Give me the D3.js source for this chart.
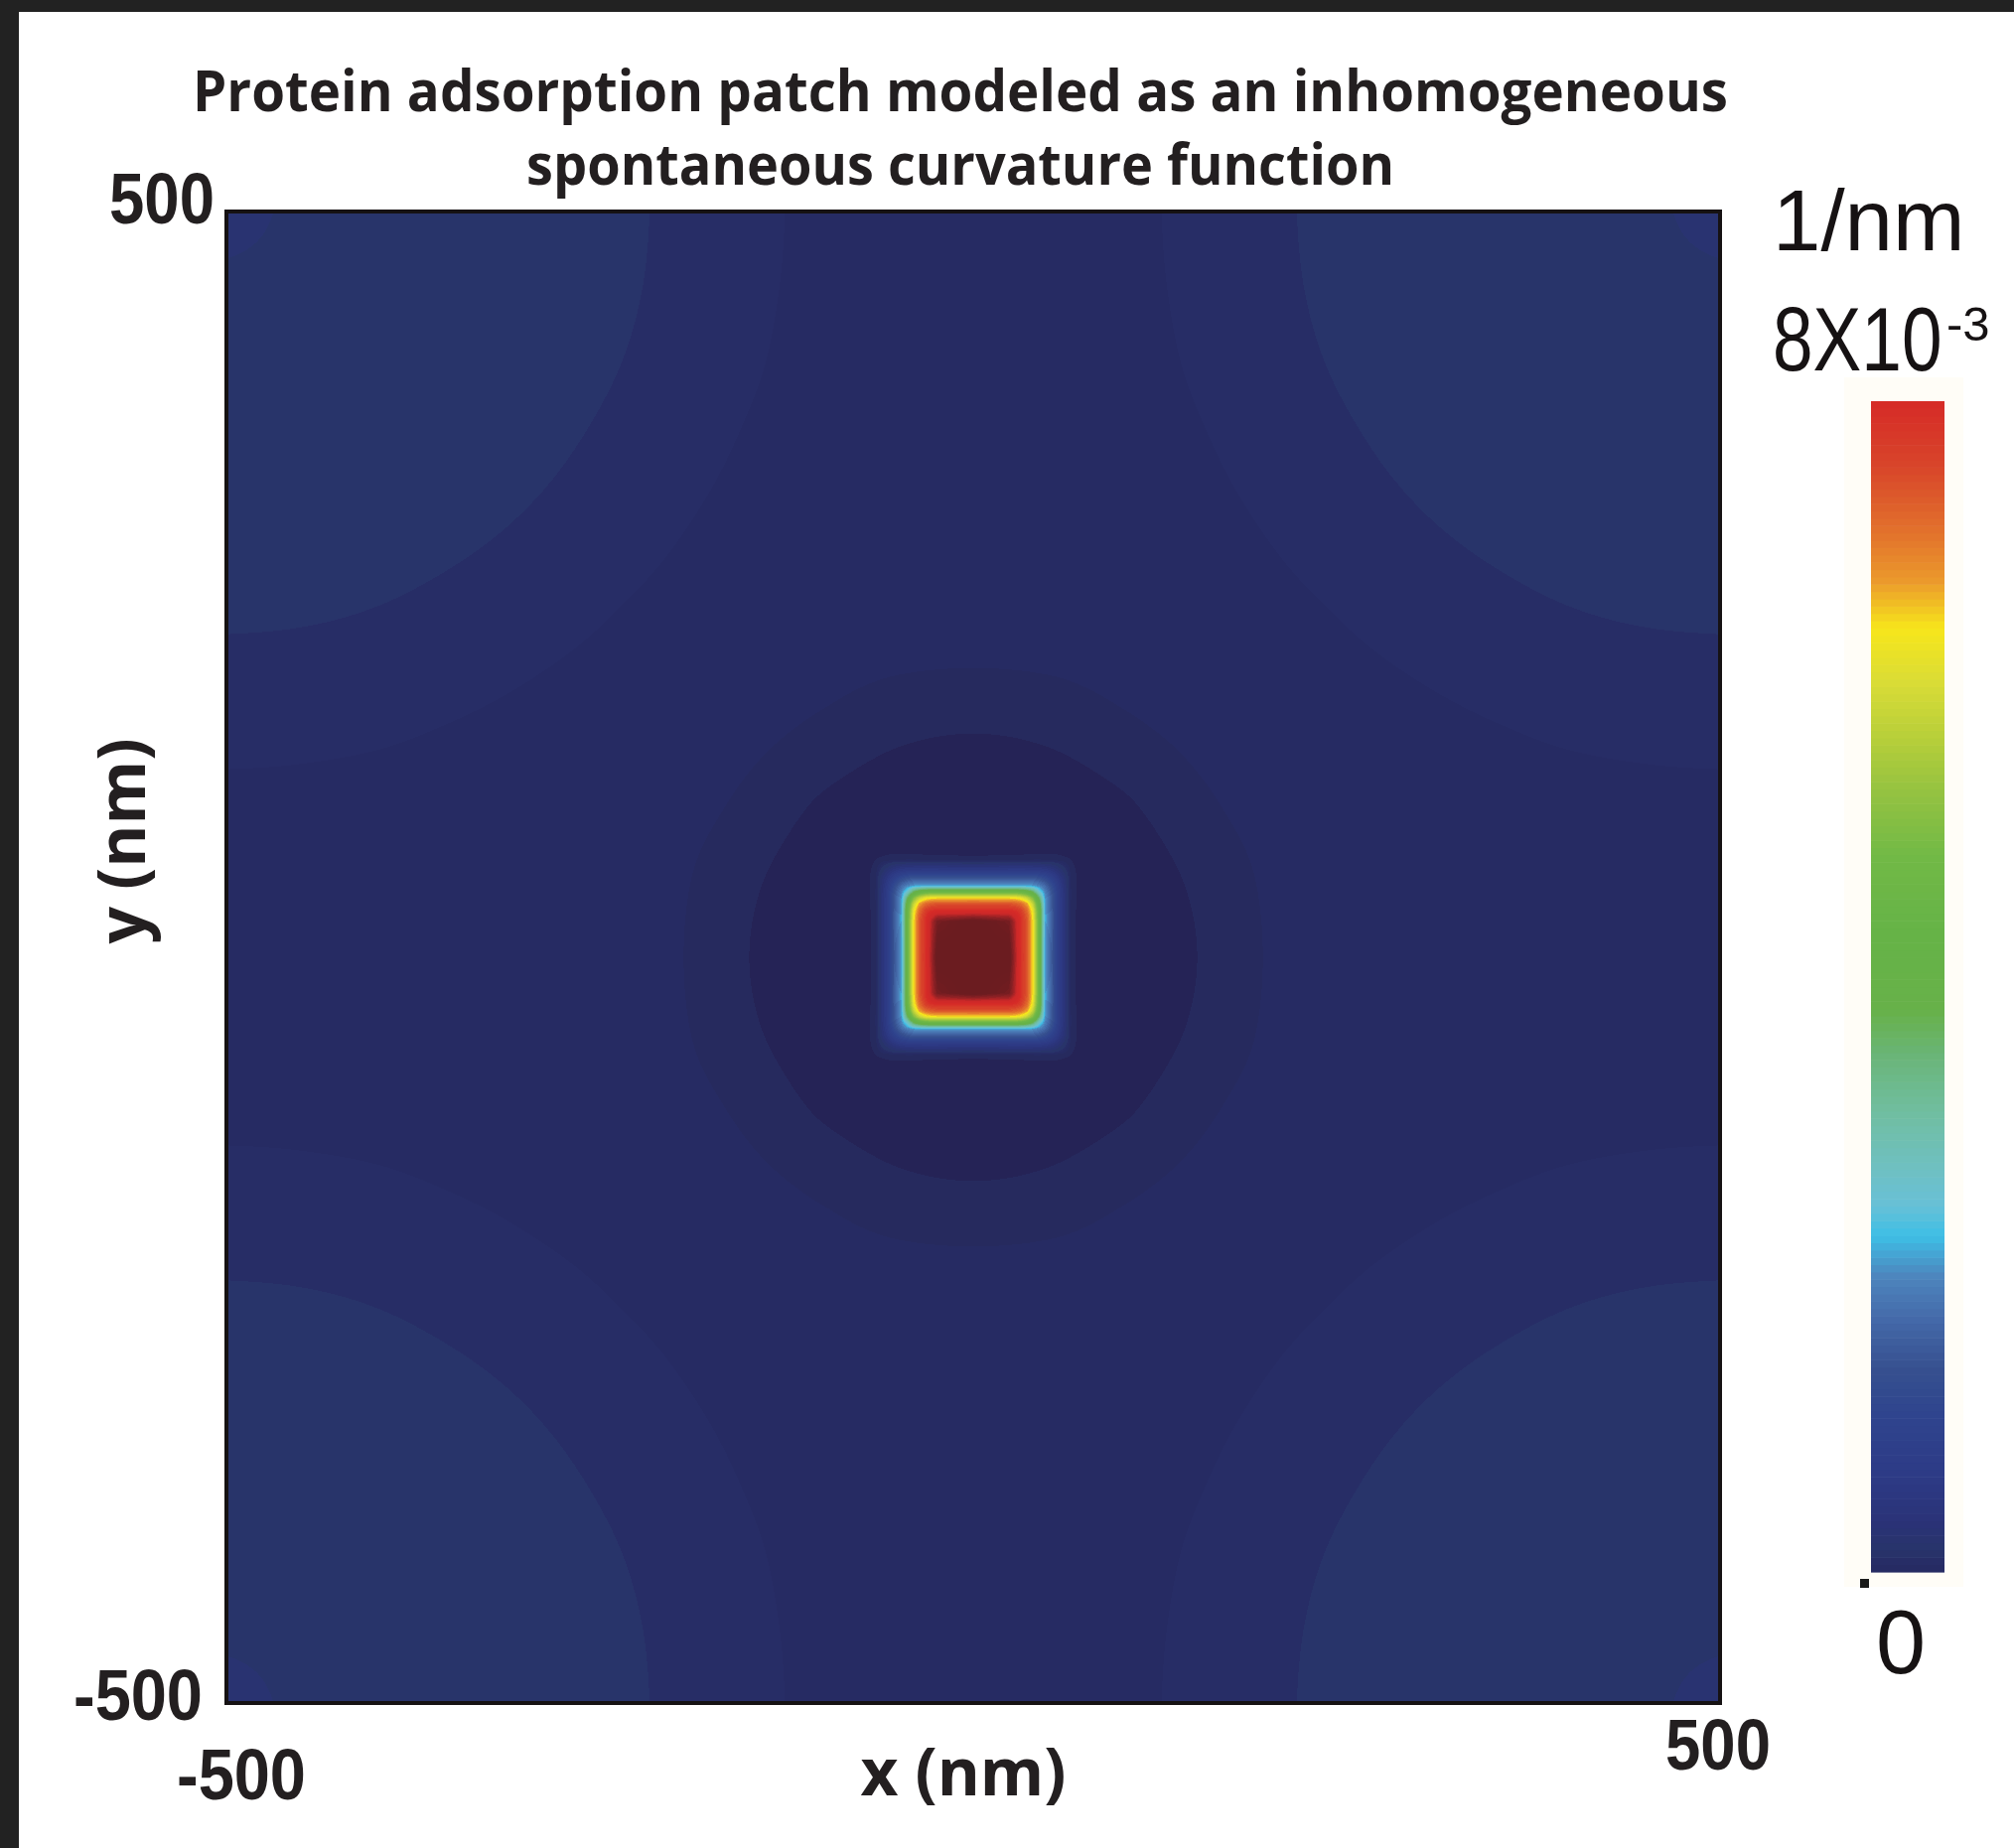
<!DOCTYPE html>
<html>
<head>
<meta charset="utf-8">
<script src="https://cdn.jsdelivr.net/npm/d3@7/dist/d3.min.js"></script>
<style>
  html, body { margin: 0; padding: 0; background: #ffffff; }
  svg { display: block; }
</style>
</head>
<body>
<svg id="fig" width="2028" height="1861"></svg>
<script>
// ---------------------------------------------------------------
// Data. Curvature values are in units of 1e-3 1/nm.
// ---------------------------------------------------------------
const titleLines = [
  "Protein adsorption patch modeled as an inhomogeneous",
  "spontaneous curvature function"
];
const xAxisTitle = "x (nm)";
const yAxisTitle = "y (nm)";
const axisDomainNm = [-500, 500];
const xTicks = [{ value: -500, label: "-500" }, { value: 500, label: "500" }];
const yTicks = [{ value: -500, label: "-500" }, { value: 500, label: "500" }];

// colour bar: unit, top label (8 x 10^-3) and bottom label (0)
const colorbarUnit = "1/nm";
const colorbarRange = [0, 8];
const colorbarTopLabel = { mantissa: "8X10", exponent: "-3" };
const colorbarBottomLabel = "0";

// coarse mesh over the whole membrane (rows: y = -500 ... 500, cols: x = -500 ... 500)
const bgGridNm = [-500, -450, -400, -350, -300, -250, -200, -150, -100, -50, 0,
                  50, 100, 150, 200, 250, 300, 350, 400, 450, 500];
const bgCurvature = [
  [0.213, 0.191, 0.17, 0.148, 0.126, 0.104, 0.083, 0.061, 0.039, 0.025, 0.025, 0.025, 0.039, 0.061, 0.083, 0.104, 0.126, 0.148, 0.17, 0.191, 0.213],
  [0.191, 0.182, 0.164, 0.144, 0.123, 0.102, 0.081, 0.059, 0.038, 0.025, 0.025, 0.025, 0.038, 0.059, 0.081, 0.102, 0.123, 0.144, 0.164, 0.182, 0.191],
  [0.17, 0.164, 0.152, 0.135, 0.116, 0.096, 0.076, 0.055, 0.034, 0.025, 0.025, 0.025, 0.034, 0.055, 0.076, 0.096, 0.116, 0.135, 0.152, 0.164, 0.17],
  [0.148, 0.144, 0.135, 0.121, 0.104, 0.086, 0.067, 0.047, 0.027, 0.025, 0.025, 0.025, 0.027, 0.047, 0.067, 0.086, 0.104, 0.121, 0.135, 0.144, 0.148],
  [0.126, 0.123, 0.116, 0.104, 0.09, 0.074, 0.056, 0.038, 0.025, 0.025, 0.025, 0.025, 0.025, 0.038, 0.056, 0.074, 0.09, 0.104, 0.116, 0.123, 0.126],
  [0.104, 0.102, 0.096, 0.086, 0.074, 0.059, 0.043, 0.026, 0.025, 0.025, 0.025, 0.025, 0.025, 0.026, 0.043, 0.059, 0.074, 0.086, 0.096, 0.102, 0.104],
  [0.083, 0.081, 0.076, 0.067, 0.056, 0.043, 0.028, 0.025, 0.017, 0.008, 0.005, 0.008, 0.017, 0.025, 0.028, 0.043, 0.056, 0.067, 0.076, 0.081, 0.083],
  [0.061, 0.059, 0.055, 0.047, 0.038, 0.026, 0.025, 0.011, -0.012, -0.04, -0.05, -0.04, -0.012, 0.011, 0.025, 0.026, 0.038, 0.047, 0.055, 0.059, 0.061],
  [0.039, 0.038, 0.034, 0.027, 0.025, 0.025, 0.017, -0.012, -0.061, -0.098, -0.113, -0.098, -0.061, -0.012, 0.017, 0.025, 0.025, 0.027, 0.034, 0.038, 0.039],
  [0.025, 0.025, 0.025, 0.025, 0.025, 0.025, 0.008, -0.04, -0.098, -0.149, -0.175, -0.149, -0.098, -0.04, 0.008, 0.025, 0.025, 0.025, 0.025, 0.025, 0.025],
  [0.025, 0.025, 0.025, 0.025, 0.025, 0.025, 0.005, -0.05, -0.113, -0.175, -0.238, -0.175, -0.113, -0.05, 0.005, 0.025, 0.025, 0.025, 0.025, 0.025, 0.025],
  [0.025, 0.025, 0.025, 0.025, 0.025, 0.025, 0.008, -0.04, -0.098, -0.149, -0.175, -0.149, -0.098, -0.04, 0.008, 0.025, 0.025, 0.025, 0.025, 0.025, 0.025],
  [0.039, 0.038, 0.034, 0.027, 0.025, 0.025, 0.017, -0.012, -0.061, -0.098, -0.113, -0.098, -0.061, -0.012, 0.017, 0.025, 0.025, 0.027, 0.034, 0.038, 0.039],
  [0.061, 0.059, 0.055, 0.047, 0.038, 0.026, 0.025, 0.011, -0.012, -0.04, -0.05, -0.04, -0.012, 0.011, 0.025, 0.026, 0.038, 0.047, 0.055, 0.059, 0.061],
  [0.083, 0.081, 0.076, 0.067, 0.056, 0.043, 0.028, 0.025, 0.017, 0.008, 0.005, 0.008, 0.017, 0.025, 0.028, 0.043, 0.056, 0.067, 0.076, 0.081, 0.083],
  [0.104, 0.102, 0.096, 0.086, 0.074, 0.059, 0.043, 0.026, 0.025, 0.025, 0.025, 0.025, 0.025, 0.026, 0.043, 0.059, 0.074, 0.086, 0.096, 0.102, 0.104],
  [0.126, 0.123, 0.116, 0.104, 0.09, 0.074, 0.056, 0.038, 0.025, 0.025, 0.025, 0.025, 0.025, 0.038, 0.056, 0.074, 0.09, 0.104, 0.116, 0.123, 0.126],
  [0.148, 0.144, 0.135, 0.121, 0.104, 0.086, 0.067, 0.047, 0.027, 0.025, 0.025, 0.025, 0.027, 0.047, 0.067, 0.086, 0.104, 0.121, 0.135, 0.144, 0.148],
  [0.17, 0.164, 0.152, 0.135, 0.116, 0.096, 0.076, 0.055, 0.034, 0.025, 0.025, 0.025, 0.034, 0.055, 0.076, 0.096, 0.116, 0.135, 0.152, 0.164, 0.17],
  [0.191, 0.182, 0.164, 0.144, 0.123, 0.102, 0.081, 0.059, 0.038, 0.025, 0.025, 0.025, 0.038, 0.059, 0.081, 0.102, 0.123, 0.144, 0.164, 0.182, 0.191],
  [0.213, 0.191, 0.17, 0.148, 0.126, 0.104, 0.083, 0.061, 0.039, 0.025, 0.025, 0.025, 0.039, 0.061, 0.083, 0.104, 0.126, 0.148, 0.17, 0.191, 0.213]
];

// refined mesh around the adsorbed protein patch (added on top of the coarse field)
const patchGridNm = [-75, -65, -58, -53, -48, -44, -40, -36, -32, -28, -24, 0,
                     24, 28, 32, 36, 40, 44, 48, 53, 58, 65, 75];
const patchCurvature = [
  [0, 0, 0, 0, 0, 0, 0, 0, 0, 0, 0, 0, 0, 0, 0, 0, 0, 0, 0, 0, 0, 0, 0],
  [0, 0.08, 0.12, 0.14, 0.14, 0.15, 0.15, 0.15, 0.15, 0.15, 0.15, 0.15, 0.15, 0.15, 0.15, 0.15, 0.15, 0.15, 0.14, 0.14, 0.12, 0.08, 0],
  [0, 0.12, 0.41, 0.63, 0.76, 0.81, 0.83, 0.84, 0.85, 0.85, 0.85, 0.85, 0.85, 0.85, 0.85, 0.84, 0.83, 0.81, 0.76, 0.63, 0.41, 0.12, 0],
  [0, 0.14, 0.63, 1.01, 1.35, 1.51, 1.59, 1.63, 1.64, 1.65, 1.65, 1.65, 1.65, 1.65, 1.64, 1.63, 1.59, 1.51, 1.35, 1.01, 0.63, 0.14, 0],
  [0, 0.14, 0.76, 1.35, 1.86, 2.12, 2.28, 2.35, 2.38, 2.4, 2.4, 2.4, 2.4, 2.4, 2.38, 2.35, 2.28, 2.12, 1.86, 1.35, 0.76, 0.14, 0],
  [0, 0.15, 0.81, 1.51, 2.12, 2.8, 3.84, 4.41, 4.67, 4.76, 4.79, 4.8, 4.79, 4.76, 4.67, 4.41, 3.84, 2.8, 2.12, 1.51, 0.81, 0.15, 0],
  [0, 0.15, 0.83, 1.59, 2.28, 3.84, 5.24, 6.0, 6.38, 6.54, 6.59, 6.6, 6.59, 6.54, 6.38, 6.0, 5.24, 3.84, 2.28, 1.59, 0.83, 0.15, 0],
  [0, 0.15, 0.84, 1.63, 2.35, 4.41, 6.0, 6.92, 7.33, 7.52, 7.58, 7.6, 7.58, 7.52, 7.33, 6.92, 6.0, 4.41, 2.35, 1.63, 0.84, 0.15, 0],
  [0, 0.15, 0.85, 1.64, 2.38, 4.67, 6.38, 7.33, 7.8, 8.0, 8.07, 8.1, 8.07, 8.0, 7.8, 7.33, 6.38, 4.67, 2.38, 1.64, 0.85, 0.15, 0],
  [0, 0.15, 0.85, 1.65, 2.4, 4.76, 6.54, 7.52, 8.0, 8.62, 9.03, 9.2, 9.03, 8.62, 8.0, 7.52, 6.54, 4.76, 2.4, 1.65, 0.85, 0.15, 0],
  [0, 0.15, 0.85, 1.65, 2.4, 4.79, 6.59, 7.58, 8.07, 9.03, 9.75, 10.2, 9.75, 9.03, 8.07, 7.58, 6.59, 4.79, 2.4, 1.65, 0.85, 0.15, 0],
  [0, 0.15, 0.85, 1.65, 2.4, 4.8, 6.6, 7.6, 8.1, 9.2, 10.2, 10.2, 10.2, 9.2, 8.1, 7.6, 6.6, 4.8, 2.4, 1.65, 0.85, 0.15, 0],
  [0, 0.15, 0.85, 1.65, 2.4, 4.79, 6.59, 7.58, 8.07, 9.03, 9.75, 10.2, 9.75, 9.03, 8.07, 7.58, 6.59, 4.79, 2.4, 1.65, 0.85, 0.15, 0],
  [0, 0.15, 0.85, 1.65, 2.4, 4.76, 6.54, 7.52, 8.0, 8.62, 9.03, 9.2, 9.03, 8.62, 8.0, 7.52, 6.54, 4.76, 2.4, 1.65, 0.85, 0.15, 0],
  [0, 0.15, 0.85, 1.64, 2.38, 4.67, 6.38, 7.33, 7.8, 8.0, 8.07, 8.1, 8.07, 8.0, 7.8, 7.33, 6.38, 4.67, 2.38, 1.64, 0.85, 0.15, 0],
  [0, 0.15, 0.84, 1.63, 2.35, 4.41, 6.0, 6.92, 7.33, 7.52, 7.58, 7.6, 7.58, 7.52, 7.33, 6.92, 6.0, 4.41, 2.35, 1.63, 0.84, 0.15, 0],
  [0, 0.15, 0.83, 1.59, 2.28, 3.84, 5.24, 6.0, 6.38, 6.54, 6.59, 6.6, 6.59, 6.54, 6.38, 6.0, 5.24, 3.84, 2.28, 1.59, 0.83, 0.15, 0],
  [0, 0.15, 0.81, 1.51, 2.12, 2.8, 3.84, 4.41, 4.67, 4.76, 4.79, 4.8, 4.79, 4.76, 4.67, 4.41, 3.84, 2.8, 2.12, 1.51, 0.81, 0.15, 0],
  [0, 0.14, 0.76, 1.35, 1.86, 2.12, 2.28, 2.35, 2.38, 2.4, 2.4, 2.4, 2.4, 2.4, 2.38, 2.35, 2.28, 2.12, 1.86, 1.35, 0.76, 0.14, 0],
  [0, 0.14, 0.63, 1.01, 1.35, 1.51, 1.59, 1.63, 1.64, 1.65, 1.65, 1.65, 1.65, 1.65, 1.64, 1.63, 1.59, 1.51, 1.35, 1.01, 0.63, 0.14, 0],
  [0, 0.12, 0.41, 0.63, 0.76, 0.81, 0.83, 0.84, 0.85, 0.85, 0.85, 0.85, 0.85, 0.85, 0.85, 0.84, 0.83, 0.81, 0.76, 0.63, 0.41, 0.12, 0],
  [0, 0.08, 0.12, 0.14, 0.14, 0.15, 0.15, 0.15, 0.15, 0.15, 0.15, 0.15, 0.15, 0.15, 0.15, 0.15, 0.15, 0.15, 0.14, 0.14, 0.12, 0.08, 0],
  [0, 0, 0, 0, 0, 0, 0, 0, 0, 0, 0, 0, 0, 0, 0, 0, 0, 0, 0, 0, 0, 0, 0]
];

// jet-like colour map (value -> colour)
const colorStops = [-0.1, -0.025, 0.025, 0.075, 0.15, 0.32, 0.64, 1.07, 1.39, 1.71,
                    2.02, 2.30, 2.51, 2.78, 3.15, 3.52, 3.84, 4.38, 4.90, 5.33,
                    5.68, 6.08, 6.45, 6.77, 7.12, 7.56, 8.0, 8.6, 9.2, 9.7, 10.2];
const colorStopColors = ["#252356", "#262a5e", "#262b63", "#272d66", "#28346a", "#2a3276",
                         "#2d3a85", "#2f448e", "#36508f", "#4468a8", "#4d85bd", "#3ebfe6",
                         "#68c0d6", "#6fc0c0", "#70bea0", "#6ab579", "#67b149", "#66b347",
                         "#72b946", "#94c241", "#b5ce3a", "#d9dc36", "#f7e61b", "#eb9a2c",
                         "#e2702c", "#d8452a", "#d62a27", "#cc2828", "#8e2024", "#6c1c20",
                         "#6a1b1f"];

// filled-contour levels
const curvatureLevels = [-0.05, 0, 0.05, 0.09].concat(d3.range(2, 103).map(k => k / 10));

// ---------------------------------------------------------------
// Layout
// ---------------------------------------------------------------
const W = 2028, H = 1861;
const plot = { left: 228, top: 213, right: 1732, bottom: 1715 };
const cbBox = { left: 1884, right: 1958, top: 404, bottom: 1583 };
const ink = "#231f20";

const svg = d3.select("#fig");
svg.append("rect").attr("width", W).attr("height", H).attr("fill", "#ffffff");
svg.append("rect").attr("x", 0).attr("y", 0).attr("width", W).attr("height", 12).attr("fill", "#222222");
svg.append("rect").attr("x", 0).attr("y", 0).attr("width", 19).attr("height", H).attr("fill", "#222222");

const x = d3.scaleLinear().domain(axisDomainNm).range([plot.left, plot.right]);
const y = d3.scaleLinear().domain(axisDomainNm).range([plot.bottom, plot.top]);
const color = d3.scaleLinear().domain(colorStops).range(colorStopColors).clamp(true);

// colour of each contour band
const bandValue = k => {
  const L = curvatureLevels;
  if (k === 0) return L[0] - 0.05;
  if (k === L.length) return L[L.length - 1] + 0.05;
  return (L[k - 1] + L[k]) / 2;
};
const bandRGB = d3.range(curvatureLevels.length + 1).map(k => {
  const c = d3.rgb(color(bandValue(k)));
  return [c.r, c.g, c.b];
});

// ---------------------------------------------------------------
// Heat map raster
// ---------------------------------------------------------------
function cubicWeights(t) {
  const t2 = t * t, t3 = t2 * t;
  return [(-t3 + 2 * t2 - t) / 2, (3 * t3 - 5 * t2 + 2) / 2, (-3 * t3 + 4 * t2 + t) / 2, (t3 - t2) / 2];
}
function coarseLookup(v) {
  const n = bgGridNm.length;
  let i = d3.bisectRight(bgGridNm, v) - 1;
  i = Math.max(0, Math.min(n - 2, i));
  const t = (v - bgGridNm[i]) / (bgGridNm[i + 1] - bgGridNm[i]);
  const idx = [i - 1, i, i + 1, i + 2].map(k => Math.max(0, Math.min(n - 1, k)));
  return { idx, w: cubicWeights(t) };
}
function fineLookup(v) {
  const g = patchGridNm, n = g.length;
  if (v <= g[0] || v >= g[n - 1]) return null;
  const i = Math.min(n - 2, d3.bisectRight(g, v) - 1);
  return { i, t: (v - g[i]) / (g[i + 1] - g[i]) };
}

const pw = plot.right - plot.left, ph = plot.bottom - plot.top;
const colC = [], colF = [], rowC = [], rowF = [];
for (let px = 0; px < pw; px++) {
  const v = x.invert(plot.left + px + 0.5);
  colC.push(coarseLookup(v)); colF.push(fineLookup(v));
}
for (let py = 0; py < ph; py++) {
  const v = y.invert(plot.top + py + 0.5);
  rowC.push(coarseLookup(v)); rowF.push(fineLookup(v));
}

const canvas = document.createElement("canvas");
canvas.width = pw; canvas.height = ph;
const ctx = canvas.getContext("2d");
const image = ctx.createImageData(pw, ph);
const buf = image.data;
for (let py = 0; py < ph; py++) {
  const rc = rowC[py], rf = rowF[py];
  for (let px = 0; px < pw; px++) {
    const cc = colC[px];
    let v = 0;
    for (let m = 0; m < 4; m++) {
      const row = bgCurvature[rc.idx[m]];
      v += rc.w[m] * (cc.w[0] * row[cc.idx[0]] + cc.w[1] * row[cc.idx[1]] +
                      cc.w[2] * row[cc.idx[2]] + cc.w[3] * row[cc.idx[3]]);
    }
    const cf = colF[px];
    if (rf && cf) {
      const r0 = patchCurvature[rf.i], r1 = patchCurvature[rf.i + 1];
      const a = r0[cf.i] * (1 - cf.t) + r0[cf.i + 1] * cf.t;
      const b = r1[cf.i] * (1 - cf.t) + r1[cf.i + 1] * cf.t;
      v += a * (1 - rf.t) + b * rf.t;
    }
    const rgb = bandRGB[d3.bisectRight(curvatureLevels, v)];
    const o = (py * pw + px) * 4;
    buf[o] = rgb[0]; buf[o + 1] = rgb[1]; buf[o + 2] = rgb[2]; buf[o + 3] = 255;
  }
}
ctx.putImageData(image, 0, 0);

svg.append("image")
  .attr("x", plot.left).attr("y", plot.top)
  .attr("width", pw).attr("height", ph)
  .attr("preserveAspectRatio", "none")
  .attr("href", canvas.toDataURL("image/png"));

svg.append("rect")
  .attr("x", plot.left).attr("y", plot.top)
  .attr("width", pw).attr("height", ph)
  .attr("fill", "none").attr("stroke", "#161213").attr("stroke-width", 4);

// ---------------------------------------------------------------
// Text
// ---------------------------------------------------------------
const titleFont = "'Open Sans', 'Noto Sans', sans-serif";
const numFont = "'Liberation Sans', Arial, sans-serif";

const titleWidths = [1546, 874];
const titleBaselines = [112, 186];
svg.selectAll("text.title").data(titleLines).join("text")
  .attr("class", "title")
  .attr("x", 967).attr("y", (d, i) => titleBaselines[i])
  .attr("text-anchor", "middle")
  .attr("font-family", titleFont).attr("font-weight", 700).attr("font-size", 58)
  .attr("textLength", (d, i) => titleWidths[i]).attr("lengthAdjust", "spacingAndGlyphs")
  .attr("fill", ink)
  .text(d => d);

svg.append("text")
  .attr("x", 970).attr("y", 1808)
  .attr("text-anchor", "middle")
  .attr("font-family", titleFont).attr("font-weight", 700).attr("font-size", 66)
  .attr("textLength", 207).attr("lengthAdjust", "spacingAndGlyphs")
  .attr("fill", ink).text(xAxisTitle);

svg.append("text")
  .attr("transform", "translate(146,847) rotate(-90)")
  .attr("text-anchor", "middle")
  .attr("font-family", titleFont).attr("font-weight", 700).attr("font-size", 66)
  .attr("textLength", 207).attr("lengthAdjust", "spacingAndGlyphs")
  .attr("fill", ink).text(yAxisTitle);

// tick labels at the axis ends
const tickWidth = s => (s.length === 3 ? 106 : 130);
svg.selectAll("text.xtick").data(xTicks).join("text")
  .attr("class", "xtick")
  .attr("x", d => x(d.value) + (d.value < 0 ? 15 : -2))
  .attr("y", d => (d.value < 0 ? 1812 : 1782))
  .attr("text-anchor", "middle")
  .attr("font-family", numFont).attr("font-weight", 700).attr("font-size", 72)
  .attr("textLength", d => tickWidth(d.label)).attr("lengthAdjust", "spacingAndGlyphs")
  .attr("fill", ink).text(d => d.label);

svg.selectAll("text.ytick").data(yTicks).join("text")
  .attr("class", "ytick")
  .attr("x", d => (d.value < 0 ? 204 : 216))
  .attr("y", d => y(d.value) + (d.value < 0 ? 17 : 12))
  .attr("text-anchor", "end")
  .attr("font-family", numFont).attr("font-weight", 700).attr("font-size", 72)
  .attr("textLength", d => tickWidth(d.label)).attr("lengthAdjust", "spacingAndGlyphs")
  .attr("fill", ink).text(d => d.label);

// ---------------------------------------------------------------
// Colour bar
// ---------------------------------------------------------------
svg.append("rect")
  .attr("x", 1857).attr("y", 380).attr("width", 120).attr("height", 1218)
  .attr("fill", "#fffdf7");

const cbY = d3.scaleLinear().domain(colorbarRange).range([cbBox.bottom, cbBox.top]);
const cbEdges = d3.range(0, 161).map(k => colorbarRange[0] + k * (colorbarRange[1] - colorbarRange[0]) / 160);
svg.append("g").selectAll("rect").data(d3.pairs(cbEdges)).join("rect")
  .attr("x", cbBox.left).attr("width", cbBox.right - cbBox.left)
  .attr("y", d => cbY(d[1]))
  .attr("height", d => cbY(d[0]) - cbY(d[1]) + 0.6)
  .attr("fill", d => color((d[0] + d[1]) / 2));

svg.append("rect")
  .attr("x", 1873).attr("y", 1590).attr("width", 9).attr("height", 9)
  .attr("fill", "#1a1a1a");

svg.append("text")
  .attr("x", 1785).attr("y", 252)
  .attr("font-family", numFont).attr("font-size", 87)
  .attr("fill", "#161213").text(colorbarUnit);

// upper colour-bar label: narrow, tall digits
svg.append("text")
  .attr("transform", "translate(1785,373) scale(1,1.25)")
  .attr("font-family", numFont).attr("font-size", 73)
  .attr("fill", "#161213").text(colorbarTopLabel.mantissa);
svg.append("text")
  .attr("x", 1960).attr("y", 343)
  .attr("font-family", numFont).attr("font-size", 49)
  .attr("fill", "#161213").text(colorbarTopLabel.exponent);

svg.append("text")
  .attr("x", 1914).attr("y", 1685)
  .attr("text-anchor", "middle")
  .attr("font-family", numFont).attr("font-size", 90)
  .attr("fill", "#161213").text(colorbarBottomLabel);
</script>
</body>
</html>
